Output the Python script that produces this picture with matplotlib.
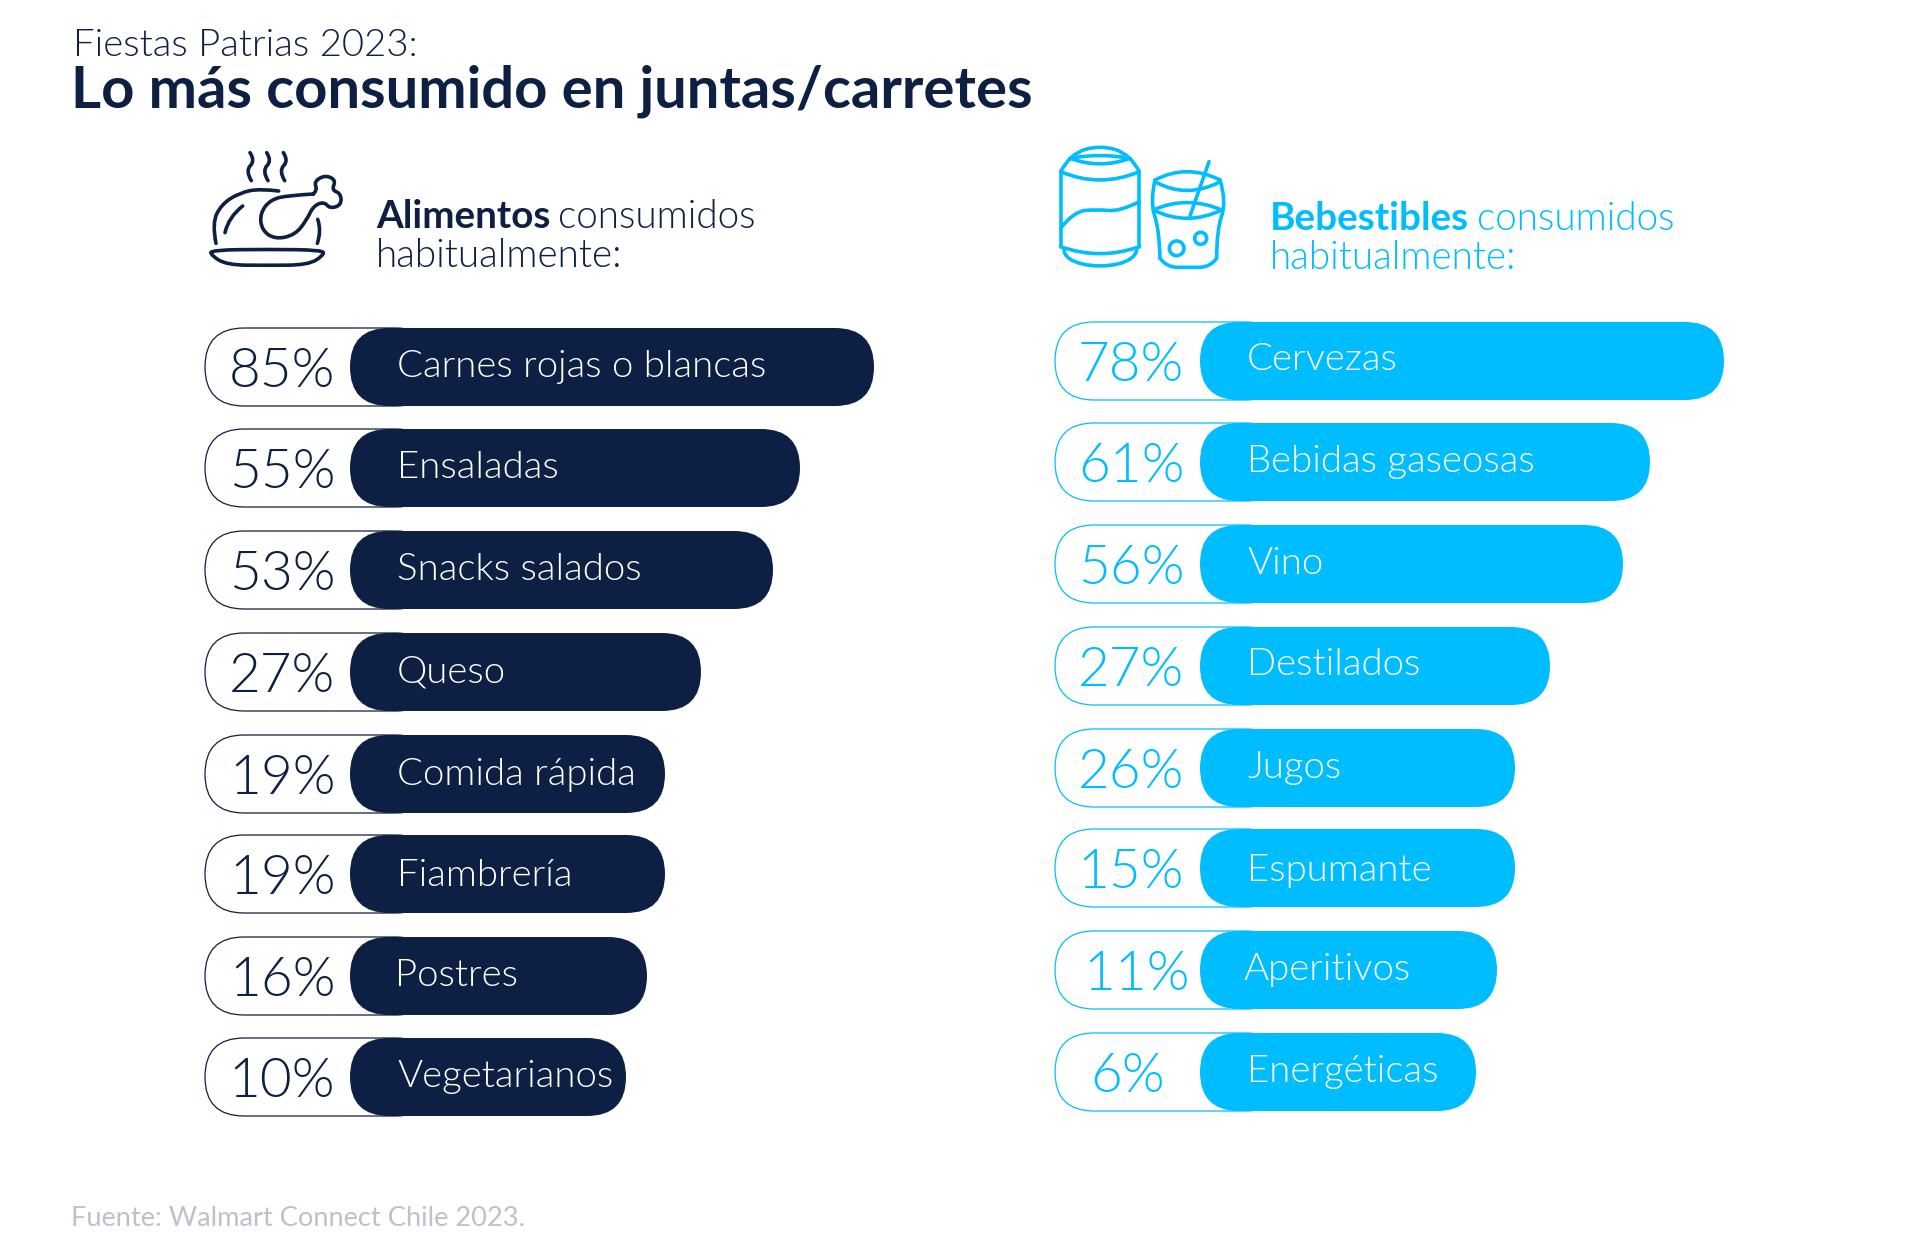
import matplotlib
matplotlib.use("Agg")
import matplotlib.pyplot as plt
from matplotlib.patches import FancyBboxPatch, PathPatch, Circle
from matplotlib.path import Path
import numpy as np

# ---------- data ----------
food_labels = ["Carnes rojas o blancas", "Ensaladas", "Snacks salados", "Queso",
               "Comida rápida", "Fiambrería", "Postres", "Vegetarianos"]
food_pct = [85, 55, 53, 27, 19, 19, 16, 10]
food_bar_len = [524, 450, 423, 351, 315, 315, 297, 276]

drink_labels = ["Cervezas", "Bebidas gaseosas", "Vino", "Destilados",
                "Jugos", "Espumante", "Aperitivos", "Energéticas"]
drink_pct = [78, 61, 56, 27, 26, 15, 11, 6]
drink_bar_len = [524, 450, 423, 350, 315, 315, 297, 276]

NAVY = "#0D1F42"
CYAN = "#00BDFF"
GREY = "#BCC1CB"
FONT = "Lato"

fig = plt.figure(figsize=(19.2, 12.57), dpi=100, facecolor="white")
ax = fig.add_axes([0, 0, 1, 1])
ax.set_xlim(0, 1920)
ax.set_ylim(1257, 0)
ax.axis("off")

# ---------- layout ----------
food_tops = [328, 429, 531, 633, 735, 835, 937, 1038]
drink_tops = [322, 423, 525, 627, 729, 829, 931, 1033]
food_pct_x = [229, 229, 229, 229, 229, 229, 229, 228]
drink_pct_x = [1078, 1078, 1078, 1078, 1078, 1077, 1083, 1090]
food_lab_dy = [0, 0, 0, 0, 1, 2, 0, 0]
drink_lab_dy = [-1, 0, 0, -1, 0, 3, 0, 0]
food_lab_dx = [0, 0, 0, 0, 0, 0, -2, 0]
drink_lab_dx = [0, 0, 0, 0, 0, 0, -3, 0]
PILL_H = 78
PCT_FS = 39.5
LAB_FS = 27.6
SUB_FS = 27.8


def pill(x, top, w, **kw):
    p = FancyBboxPatch((x, top), w, PILL_H,
                       boxstyle=f"round,pad=0,rounding_size={PILL_H/2}", **kw)
    ax.add_patch(p)


def panel(x0, bar_x, tops, labels, pct, lens, pct_x, lab_dx, lab_dy, color):
    for top, lab, v, ln, px, ldx, ldy in zip(tops, labels, pct, lens, pct_x, lab_dx, lab_dy):
        pill(x0, top, 230, fc="white", ec=color, lw=0.9, zorder=2)
        pill(bar_x, top, ln, fc=color, ec="none", zorder=3)
        ax.text(px, top + 59, f"{v}%", color=color, fontsize=PCT_FS, family=FONT,
                weight=300, va="baseline", ha="left", zorder=4)
        ax.text(bar_x + 47 + ldx, top + 49 + ldy, lab, color="white", fontsize=LAB_FS,
                family=FONT, weight=300, va="baseline", ha="left", zorder=4)


panel(205, 350, food_tops, food_labels, food_pct, food_bar_len, food_pct_x,
      food_lab_dx, food_lab_dy, NAVY)
panel(1055, 1200, drink_tops, drink_labels, drink_pct, drink_bar_len, drink_pct_x,
      drink_lab_dx, drink_lab_dy, CYAN)

# ---------- titles ----------
ax.text(73, 56, "Fiestas Patrias 2023:", color=NAVY, fontsize=27.6, family=FONT,
        weight=300, va="baseline")
ax.text(71, 108, "Lo más consumido en juntas/carretes", color=NAVY, fontsize=41.8,
        family=FONT, weight="bold", va="baseline")
ax.text(71, 1226, "Fuente: Walmart Connect Chile 2023.", color=GREY, fontsize=19.6,
        family=FONT, va="baseline")


def subhead(x, y, bold, color):
    t = ax.text(x, y, bold, color=color, fontsize=SUB_FS, family=FONT, weight="bold",
                va="baseline")
    r = fig.canvas.get_renderer()
    end = t.get_window_extent(r).x1
    ax.text(end + 8, y, "consumidos", color=color, fontsize=SUB_FS, family=FONT,
            weight=300, va="baseline")
    ax.text(x, y + 39, "habitualmente:", color=color, fontsize=SUB_FS, family=FONT,
            weight=300, va="baseline")


subhead(376, 228, "Alimentos", NAVY)
subhead(1270, 230, "Bebestibles", CYAN)


# ---------- icons (drawn from zoomed outline points) ----------
def smooth(points, ox, oy, closed=False):
    pts = np.array(points, float) / 3 + [ox, oy]
    if closed:
        mids = (pts + np.roll(pts, -1, axis=0)) / 2
        verts = [mids[-1]]
        codes = [Path.MOVETO]
        for i in range(len(pts)):
            verts += [pts[i], mids[i]]
            codes += [Path.CURVE3, Path.CURVE3]
    else:
        verts = [pts[0]]
        codes = [Path.MOVETO]
        for i in range(1, len(pts) - 1):
            end = (pts[i] + pts[i + 1]) / 2 if i < len(pts) - 2 else pts[i + 1]
            verts += [pts[i], end]
            codes += [Path.CURVE3, Path.CURVE3]
        if len(pts) == 2:
            verts.append(pts[1])
            codes.append(Path.LINETO)
    return Path(np.array(verts), codes)


def stroke(points, ox, oy, color, closed=False, lw=2.6):
    ax.add_patch(PathPatch(smooth(points, ox, oy, closed), fc="none", ec=color, lw=lw,
                           capstyle="round", joinstyle="round", zorder=5))


CX, CY = 180, 130
for dx in (0, 50, 100):
    stroke([(210 + dx, 68), (226 + dx, 92), (196 + dx, 122), (214 + dx, 152)], CX, CY, NAVY)
stroke([(108, 340), (96, 280), (125, 222), (180, 188), (240, 176), (296, 183)], CX, CY, NAVY)
stroke([(135, 308), (145, 262), (188, 228)], CX, CY, NAVY)
stroke([(413, 268), (425, 300), (412, 340)], CX, CY, NAVY)
stroke([(400, 192), (330, 196), (272, 208), (240, 250), (245, 300), (285, 328), (345, 315),
        (380, 270), (400, 228), (432, 215), (450, 236), (484, 225), (482, 190), (455, 180),
        (468, 150), (435, 135), (402, 155), (412, 180), (400, 192)], CX, CY, NAVY)
stroke([(95, 360), (260, 358), (428, 360), (432, 375), (385, 405), (260, 406), (140, 405),
        (92, 375)], CX, CY, NAVY, closed=True)

DX, DY = 1040, 130
can = [
    [(62, 125), (90, 72), (180, 45), (270, 72), (298, 125)],
    [(90, 85), (180, 68), (270, 85)],
    [(90, 85), (180, 118), (270, 85)],
    [(62, 125), (180, 175), (298, 125)],
    [(62, 125), (62, 350)],
    [(298, 125), (298, 350)],
    [(62, 350), (180, 392), (298, 350)],
    [(72, 360), (75, 390), (180, 414), (285, 390), (290, 360)],
    [(62, 295), (100, 245), (170, 238), (240, 245), (298, 215)],
]
for c in can:
    stroke(c, DX, DY, CYAN)
glass = [
    [(345, 150), (440, 100), (540, 150)],
    [(345, 150), (330, 215), (358, 300), (360, 385)],
    [(540, 150), (560, 215), (530, 300), (530, 385)],
    [(360, 385), (380, 412), (445, 412), (510, 412), (530, 385)],
    [(350, 158), (440, 205), (535, 158)],
    [(340, 240), (440, 195), (545, 240)],
    [(340, 240), (440, 290), (545, 240)],
    [(507, 95), (450, 258)],
]
for g in glass:
    stroke(g, DX, DY, CYAN)
for cx, cy, r in [(410, 355, 22), (482, 325, 18)]:
    ax.add_patch(Circle((DX + cx / 3, DY + cy / 3), r / 3, fc="none", ec=CYAN, lw=2.6, zorder=5))

fig.savefig("out.png", dpi=100, facecolor="white")
